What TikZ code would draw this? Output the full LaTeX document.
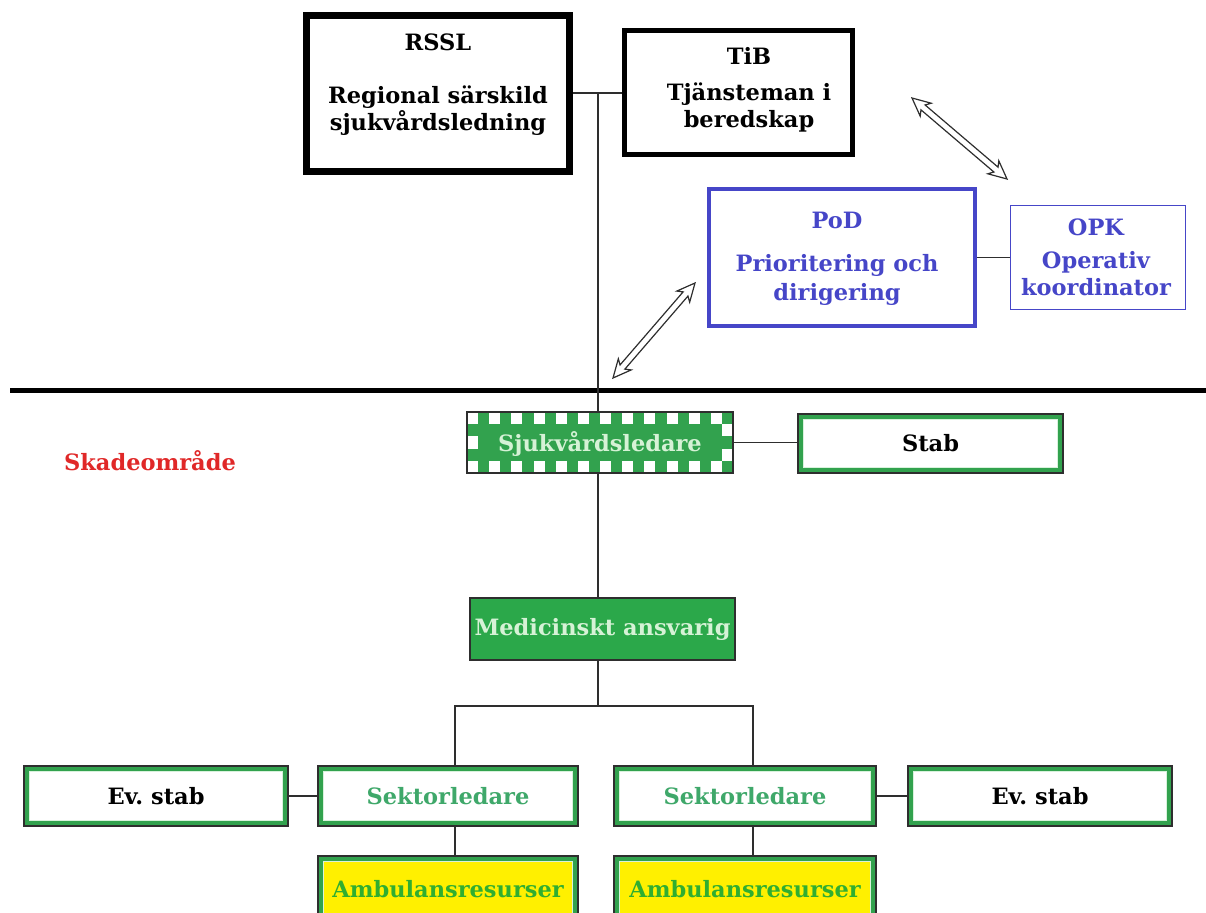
\documentclass[tikz,border=0pt]{standalone}
\usepackage{fontspec}
\setmainfont{DejaVu Serif}
\usetikzlibrary{calc}
\definecolor{dk}{HTML}{2E2E2E}
\definecolor{gr}{HTML}{32A24E}
\definecolor{lgr}{HTML}{D8F2DC}
\definecolor{bl}{HTML}{4646C8}
\definecolor{sgr}{HTML}{3FA86A}
\definecolor{agr}{HTML}{30AE30}
\definecolor{yl}{HTML}{FFF000}
\definecolor{rd}{HTML}{E02828}
\definecolor{mgr}{HTML}{2BA84A}
\definecolor{ltxt}{HTML}{D6F2D6}

\newcommand\gframe[1]{%
 \draw[gr, line width=4.2pt] ([shift={(2.8pt,-2.8pt)}]#1.north west) rectangle ([shift={(-2.8pt,2.8pt)}]#1.south east);
 \draw[lgr, line width=1pt] ([shift={(5.4pt,-5.4pt)}]#1.north west) rectangle ([shift={(-5.4pt,5.4pt)}]#1.south east);
 \draw[dk, line width=1.4pt] (#1.north west) rectangle (#1.south east);}

\newcommand\hollowdarrow[2]{%
 \path coordinate (h1) at ($(#1)!18pt!(#2)$) coordinate (h2) at ($(#2)!18pt!(#1)$)
       coordinate (b1) at ($(#1)!14.5pt!(#2)$) coordinate (b2) at ($(#2)!14.5pt!(#1)$);
 \draw[dk, line width=1.2pt, fill=white, line join=miter] (#1) -- ($(h1)!8.5pt!90:(#2)$) -- ($(b1)!3.2pt!90:(#2)$)
   -- ($(b2)!3.2pt!-90:(#1)$) -- ($(h2)!8.5pt!-90:(#1)$) -- (#2) -- ($(h2)!8.5pt!90:(#1)$)
   -- ($(b2)!3.2pt!90:(#1)$) -- ($(b1)!3.2pt!-90:(#2)$) -- ($(h1)!8.5pt!-90:(#2)$) -- cycle;}

\begin{document}
\begin{tikzpicture}[x=1pt,y=-1pt,
  font=\fontsize{22.5pt}{27pt}\selectfont\bfseries,
  conn/.style={draw=dk, line width=1.4pt},
  bbox/.style={rectangle, draw=black, fill=white, inner sep=0pt},
  txt/.style={inner sep=0pt, align=center},
  gbox/.style={rectangle, fill=white, inner sep=0pt, outer sep=0pt, minimum width=264pt, minimum height=60pt}]
\useasboundingbox (0,0) rectangle (1206,912);
\clip (0,0) rectangle (1206,912);

% upper level
\node[bbox, line width=7pt, minimum width=263pt, minimum height=156pt] (rssl) at (438,93.5) {};
\node[txt] (rssl-t) at (438,85) {RSSL\\[26pt]Regional särskild\\sjukvårdsledning};
\node[bbox, line width=5pt, minimum width=228pt, minimum height=124pt] (tib) at (738.5,92.5) {};
\node[txt] (tib-t) at (749,90) {TiB\\[9pt]Tjänsteman i\\beredskap};
\node[bbox, draw=bl, line width=4pt, minimum width=266pt, minimum height=137pt] (pod) at (842,257.5) {};
\node[txt, text=bl, font=\fontsize{22.5pt}{29pt}\selectfont\bfseries] (pod-t) at (837,259) {PoD\\[14pt]Prioritering och\\dirigering};
\node[bbox, draw=bl, line width=1.3pt, minimum width=175pt, minimum height=104pt] (opk) at (1098,257.5) {};
\node[txt, text=bl] (opk-t) at (1096,257) {OPK\\[6pt]Operativ\\koordinator};

\coordinate (j1) at (598,93);
\draw[conn] (rssl.east |- j1) -- (tib.west |- j1);
\draw[conn] (pod.east) -- (opk.west);

% arrows
\coordinate (a1s) at (912,98);
\coordinate (a1e) at (1007,179);
\coordinate (a2s) at (695,283);
\coordinate (a2e) at (613,378);
\hollowdarrow{a1s}{a1e}
\hollowdarrow{a2s}{a2e}

% lower level nodes
\node[gbox, fill=gr, minimum width=266pt, minimum height=61pt] (sjv) at (600,442.5) {};
\foreach \i in {0,2,...,22} {
  \fill[white] ([shift={(\i*11.083pt,0pt)}]sjv.north west) rectangle +(11.083pt,-12.2pt);
  \fill[white] ([shift={(\i*11.083pt,-48.8pt)}]sjv.north west) rectangle +(11.083pt,-12.2pt);
}
\fill[white] ([shift={(0pt,-24.4pt)}]sjv.north west) rectangle +(11.083pt,-12.2pt);
\fill[white] ([shift={(254.9pt,-12.2pt)}]sjv.north west) rectangle +(11.083pt,-12.2pt);
\fill[white] ([shift={(254.9pt,-36.6pt)}]sjv.north west) rectangle +(11.083pt,-12.2pt);
\draw[dk, line width=1.3pt] (sjv.north west) rectangle (sjv.south east);
\node[txt, text=ltxt] (sjv-t) at ([yshift=-1.5pt]sjv.center) {Sjukvårdsledare};

\node[gbox, minimum width=265pt, minimum height=59pt] (stab) at (930.5,443.5) {Stab};
\gframe{stab}

\node[txt, text=rd] (skade) at (150,461) {Skadeområde};

\node[gbox, fill=mgr, text=ltxt, minimum width=265pt, minimum height=62pt] (med) at (602.5,629) {Medicinskt ansvarig};
\draw[dk, line width=1.3pt] (med.north west) rectangle (med.south east);

\node[gbox, text=sgr, minimum width=260pt] (sl) at (448,796) {Sektorledare};
\node[gbox, text=sgr, minimum width=262pt] (sr) at (745,796) {Sektorledare};
\node[gbox, minimum width=264pt] (el) at (156,796) {Ev.\ stab};
\node[gbox, minimum width=264pt] (er) at (1040,796) {Ev.\ stab};
\node[gbox, fill=yl, text=agr, minimum width=260pt, minimum height=66pt] (al) at (448,889) {Ambulansresurser};
\node[gbox, fill=yl, text=agr, minimum width=262pt, minimum height=66pt] (ar) at (745,889) {Ambulansresurser};
\foreach \n in {sl,sr,el,er,al,ar} {\gframe{\n}}

% horizontal divider
\coordinate (hl) at (10,390);
\coordinate (hr) at (1206,390);
\draw[black, line width=5pt] (hl) -- (hr);

% connectors
\draw[conn] (j1) -- (j1 |- sjv.north);
\draw[conn] (sjv.east) -- (sjv.east -| stab.west);
\draw[conn] (j1 |- sjv.south) -- (j1 |- med.north);
\coordinate (bm) at (598,706);
\coordinate (bl) at (455,706);
\coordinate (br) at (753,706);
\draw[conn] (j1 |- med.south) -- (bm);
\draw[conn] (bl |- sl.north) -- (bl) -- (br) -- (br |- sr.north);
\draw[conn] (el.east) -- (sl.west);
\draw[conn] (sr.east) -- (er.west);
\draw[conn] (bl |- sl.south) -- (bl |- al.north);
\draw[conn] (br |- sr.south) -- (br |- ar.north);
\end{tikzpicture}
\end{document}
